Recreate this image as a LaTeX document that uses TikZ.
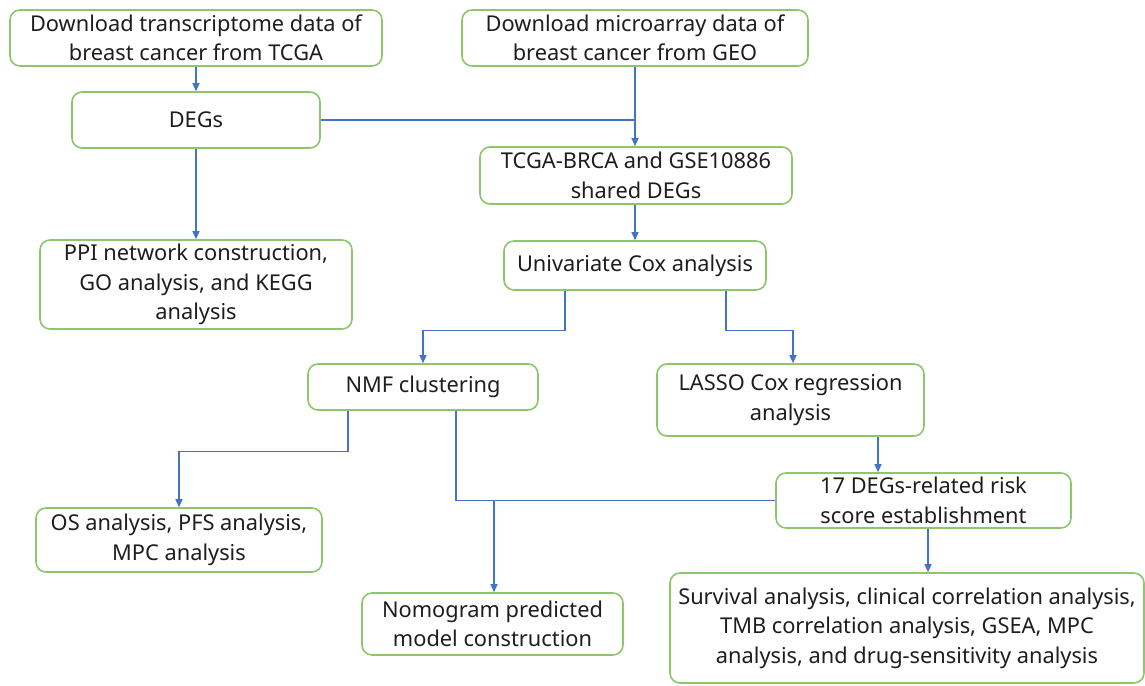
\documentclass[tikz,border=0pt]{standalone}
\usepackage{fontspec}
\setmainfont{Noto Sans}
\usetikzlibrary{arrows.meta,calc}
\definecolor{boxgreen}{HTML}{8DC66B}
\definecolor{arrowblue}{HTML}{4472C4}
\definecolor{txt}{HTML}{1E1E1E}
\begin{document}
\begin{tikzpicture}[x=1pt,y=-1pt,
  box/.style={draw=boxgreen, line width=1.6pt, rounded corners=10pt, fill=white, align=center,
    text=txt, font=\fontsize{21.8}{29.5}\selectfont, inner sep=0pt},
  arr/.style={draw=arrowblue, line width=1.3pt, -{Triangle[length=8pt,width=7pt]}},
  ln/.style={draw=arrowblue, line width=1.3pt}]
\useasboundingbox (0,0) rectangle (1145,685);
\node[box, minimum width=372pt, minimum height=56pt] (tcga) at (196,38) {Download transcriptome data of\\breast cancer from TCGA};
\node[box, minimum width=346pt, minimum height=56pt] (geo) at (635,38) {Download microarray data of\\breast cancer from GEO};
\node[box, minimum width=248pt, minimum height=56pt] (degs) at (196,120) {DEGs};
\node[box, minimum width=312pt, minimum height=57pt] (shared) at (636,175.5) {TCGA-BRCA and GSE10886\\shared DEGs};
\node[box, minimum width=312pt, minimum height=89pt] (ppi) at (196,284.5) {PPI network construction,\\GO analysis, and KEGG\\analysis};
\node[box, minimum width=262pt, minimum height=49pt] (uni) at (635,265.5) {Univariate Cox analysis};
\node[box, minimum width=230pt, minimum height=46pt] (nmf) at (423,387) {NMF clustering};
\node[box, minimum width=267pt, minimum height=72pt] (lasso) at (790.5,400) {LASSO Cox regression\\analysis};
\node[box, minimum width=295pt, minimum height=55pt] (risk) at (923.5,500.5) {17 DEGs-related risk\\score establishment};
\node[box, minimum width=286pt, minimum height=64pt] (os) at (179,540) {OS analysis, PFS analysis,\\MPC analysis};
\node[box, minimum width=261pt, minimum height=62pt] (nomo) at (492.5,624) {Nomogram predicted\\model construction};
\node[box, minimum width=474pt, minimum height=110pt] (surv) at (907,628) {Survival analysis, clinical correlation analysis,\\TMB correlation analysis, GSEA, MPC\\analysis, and drug-sensitivity analysis};

\draw[arr] (tcga) -- (degs);
\draw[arr] (geo.south) -- (geo.south |- shared.north);
\draw[ln] (degs.east) -- (degs.east -| geo.south);
\draw[arr] (degs) -- (ppi);
\draw[arr] (uni.north |- shared.south) -- (uni.north);
\draw[arr] ([xshift=-70pt]uni.south) -- ++(0,40) -| (nmf.north);
\draw[arr] ([xshift=91pt]uni.south) -- ++(0,40) -| ([xshift=2.5pt]lasso.north);
\draw[arr] ([xshift=-75pt]nmf.south) -- ++(0,41) -| (os.north);
\draw[ln] ([xshift=33pt]nmf.south) |- (risk.west);
\coordinate (j) at ([xshift=1.5pt]nomo.north |- risk.west);
\draw[arr] (j) -- ([xshift=1.5pt]nomo.north);
\draw[arr] ([xshift=87.5pt]lasso.south) -- ([xshift=87.5pt]lasso.south |- risk.north);
\draw[arr] ([xshift=4.5pt]risk.south) -- ([xshift=4.5pt]risk.south |- surv.north);
\end{tikzpicture}
\end{document}
